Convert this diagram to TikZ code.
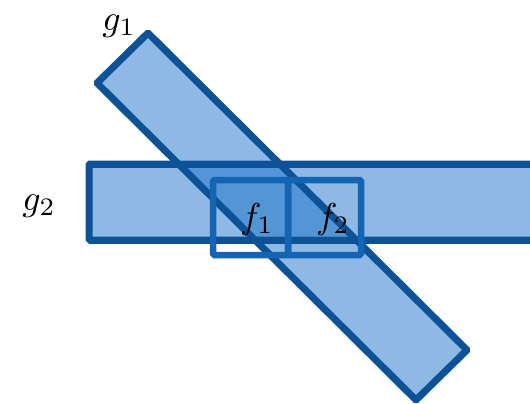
\documentclass[tikz,border=0pt]{standalone}
\usepackage{amsmath}
\usepackage{tikz}
\usetikzlibrary{calc}
\definecolor{barline}{HTML}{0D5197}
\definecolor{barfill}{HTML}{1B73C9}
\definecolor{fline}{HTML}{1464B4}
\newcommand{\biglab}[1]{\scalebox{3.6}{$#1$}}
\tikzset{
  bar/.style={draw=barline,line width=7pt,fill=barfill,fill opacity=0.5,rounded corners=1pt},
  fbox/.style={draw=fline,line width=6.5pt,rounded corners=1.5pt},
  lab/.style={inner sep=0pt},
}
\begin{document}
\begin{tikzpicture}[x=1pt,y=-1pt]
\useasboundingbox (0,0) rectangle (530,404);
\begin{scope}
\clip (0,0) rectangle (530,404);
% horizontal bar g2, then diagonal bar g1
\draw[bar] (89,164) rectangle (560,240);
\draw[bar] (148,33) -- (97,83) -- (416,400) -- (467,350) -- cycle;
\draw[barline,line width=7pt] (89,164) -- (530,164) (89,240) -- (530,240);
\end{scope}
\draw[fbox] (213,180) rectangle (288,255);
\draw[fbox] (288,180) rectangle (361,255);
\node[lab] (g1) at (119,26) {\biglab{g_1}};
\node[lab] (g2) at (39,206) {\biglab{g_2}};
\node[lab] (f1) at (257,219) {\biglab{f_1}};
\node[lab] (f2) at (333,219) {\biglab{f_2}};
\end{tikzpicture}
\end{document}
